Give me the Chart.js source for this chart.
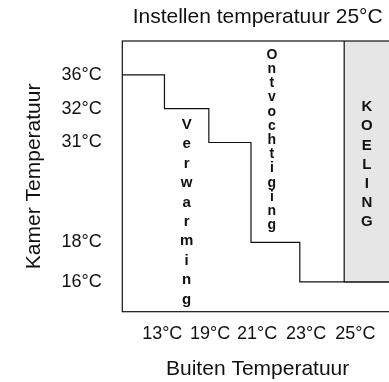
<!DOCTYPE html>
<html>
<head>
<meta charset="utf-8">
<script src="https://cdn.jsdelivr.net/npm/chart.js@4/dist/chart.umd.min.js"></script>
<style>
  html, body { margin: 0; padding: 0; background: #fff; overflow: hidden; }
  .wrap { position: relative; width: 393px; height: 382px; }
</style>
</head>
<body>
<div class="wrap"><canvas id="myChart"></canvas></div>
<script>
// buitentemperatuur (x-as)
const buitenLabels = ["13°C", "19°C", "21°C", "23°C", "25°C"];
const buitenTickPos = [0.9, 1.98, 3.04, 4.14, 5.25];

// kamertemperatuur (y-as), niveau in schema-eenheden
const kamerLabels = ["36°C", "32°C", "31°C", "18°C", "16°C"];
const kamerNiveau = [7, 6, 5, 2.05, 0.88];

// x waarop de kamertemperatuur een trede omlaag gaat
const stapX = [0.95, 1.95, 2.9, 4];
const koelingVanaf = 5;

const xMax = 6.1;
const yMax = 8;
const font = '"Liberation Sans", Arial, Helvetica, sans-serif';
const ink = "#111";

let trap = [{ x: 0, y: kamerNiveau[0] }];
for (let i = 0; i < stapX.length; i++) {
  trap.push({ x: stapX[i], y: kamerNiveau[i + 1] });
}
trap.push({ x: xMax, y: kamerNiveau[kamerNiveau.length - 1] });

const koeling = [
  { x: koelingVanaf, y: yMax },
  { x: koelingVanaf, y: kamerNiveau[kamerNiveau.length - 1] },
  { x: xMax, y: kamerNiveau[kamerNiveau.length - 1] },
];

// kader rond het plotgebied
const kader = {
  id: "kader",
  afterDraw(chart) {
    const { ctx, chartArea: a } = chart;
    ctx.save();
    ctx.strokeStyle = ink;
    ctx.lineWidth = 1.2;
    ctx.strokeRect(a.left, a.top, a.right - a.left, a.bottom - a.top);
    ctx.restore();
  },
};

// verticaal gestapelde letters in de zones
const stapelTekst = {
  id: "stapelTekst",
  afterDatasetsDraw(chart) {
    const { ctx, scales } = chart;
    const teksten = [
      { tekst: "Verwarming", x: 1.45, y: 5.52, stap: 19.4, grootte: 15 },
      { tekst: "Ontvochtiging", x: 3.37, y: 7.59, stap: 14.2, grootte: 14 },
      { tekst: "KOELING", x: 5.51, y: 6.05, stap: 19.2, grootte: 15 },
    ];
    ctx.save();
    ctx.fillStyle = ink;
    ctx.textAlign = "center";
    ctx.textBaseline = "middle";
    teksten.forEach((t) => {
      ctx.font = "bold " + t.grootte + "px " + font;
      const px = scales.x.getPixelForValue(t.x);
      const py = scales.y.getPixelForValue(t.y);
      for (let i = 0; i < t.tekst.length; i++) {
        ctx.fillText(t.tekst[i], px, py + i * t.stap);
      }
    });
    ctx.restore();
  },
};

const ctx = document.getElementById("myChart").getContext("2d");

const myChart = new Chart(ctx, {
  type: "line",
  data: {
    datasets: [
      {
        label: "Koeling",
        data: koeling,
        fill: "end",
        backgroundColor: "#e6e6e6",
        borderColor: ink,
        borderWidth: 1.2,
        pointRadius: 0,
      },
      {
        label: "Kamer temperatuur",
        data: trap,
        stepped: true,
        fill: false,
        borderColor: ink,
        borderWidth: 1.2,
        pointRadius: 0,
      },
    ],
  },
  options: {
    responsive: true,
    maintainAspectRatio: false,
    animation: false,
    layout: { padding: 0 },
    plugins: {
      legend: { display: false },
      tooltip: { enabled: false },
      title: {
        display: true,
        text: "Instellen temperatuur 25°C",
        color: ink,
        fullSize: false,
        font: { family: font, size: 21, weight: "normal" },
        padding: { top: 5, bottom: 10.8 },
      },
    },
    scales: {
      x: {
        type: "linear",
        min: 0,
        max: xMax,
        afterFit: (scale) => { scale.height = 70.3; },
        afterBuildTicks: (scale) => {
          scale.ticks = buitenTickPos.map((v) => ({ value: v }));
        },
        ticks: {
          autoSkip: false,
          maxRotation: 0,
          color: ink,
          padding: 11.2,
          font: { family: font, size: 18 },
          callback: (value) => buitenLabels[buitenTickPos.indexOf(value)],
        },
        grid: { display: false, drawTicks: false },
        border: { display: false },
        title: {
          display: true,
          text: "Buiten Temperatuur",
          color: ink,
          font: { family: font, size: 21 },
          padding: { top: 0, bottom: 0 },
        },
      },
      y: {
        type: "linear",
        min: 0,
        max: yMax,
        afterFit: (scale) => { scale.width = 122.3; },
        afterBuildTicks: (scale) => {
          scale.ticks = kamerNiveau.map((v) => ({ value: v }));
        },
        ticks: {
          autoSkip: false,
          color: ink,
          padding: 20.5,
          font: { family: font, size: 18 },
          callback: (value) => kamerLabels[kamerNiveau.indexOf(value)],
        },
        grid: { display: false, drawTicks: false },
        border: { display: false },
        title: {
          display: true,
          text: "Kamer Temperatuur",
          color: ink,
          font: { family: font, size: 21 },
          padding: { top: 21.4, bottom: 0 },
        },
      },
    },
  },
  plugins: [kader, stapelTekst],
});
</script>
</body>
</html>
